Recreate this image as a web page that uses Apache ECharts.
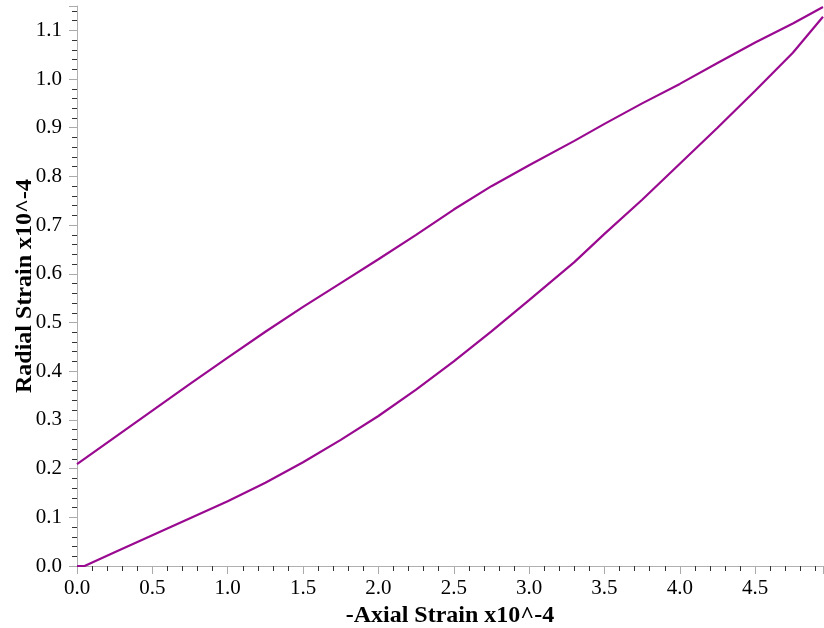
<!DOCTYPE html>
<html>
<head>
<meta charset="utf-8">
<script src="https://cdn.jsdelivr.net/npm/echarts@6/dist/echarts.min.js"></script>
<style>html,body{margin:0;padding:0;background:#fff;}#c{width:824px;height:628px;}</style>
</head>
<body>
<div id="c"></div>
<script>
// Upper branch
const upperX = [0.0, 0.25, 0.5, 0.75, 1.0, 1.25, 1.5, 1.75, 2.0, 2.25, 2.5, 2.75, 3.0, 3.3, 3.5, 3.75, 4.0, 4.25, 4.5, 4.75, 4.95];
const upperY = [0.209, 0.264, 0.319, 0.374, 0.428, 0.481, 0.532, 0.581, 0.630, 0.680, 0.732, 0.780, 0.823, 0.873, 0.908, 0.950, 0.990, 1.033, 1.075, 1.114, 1.148];
// Lower branch
const lowerX = [0.0, 0.05, 0.25, 0.5, 0.75, 1.0, 1.25, 1.5, 1.75, 2.0, 2.25, 2.5, 2.75, 3.0, 3.3, 3.5, 3.75, 4.0, 4.25, 4.5, 4.75, 4.95];
const lowerY = [0.0, 0.0, 0.028, 0.063, 0.098, 0.133, 0.171, 0.213, 0.259, 0.308, 0.362, 0.420, 0.482, 0.546, 0.624, 0.682, 0.752, 0.826, 0.900, 0.976, 1.054, 1.128];

const xTickLabels = ['0.0','0.5','1.0','1.5','2.0','2.5','3.0','3.5','4.0','4.5'];
const yTickLabels = ['0.0','0.1','0.2','0.3','0.4','0.5','0.6','0.7','0.8','0.9','1.0','1.1'];

const lineColor = '#990a90';
const font = 'Liberation Serif';

const chart = echarts.init(document.getElementById('c'), null, {renderer: 'canvas'});
chart.setOption({
  animation: false,
  backgroundColor: '#fff',
  grid: {left: 77, right: 1, top: 6, bottom: 62, containLabel: false, outerBoundsMode: 'none'},
  xAxis: {
    type: 'value', min: 0, max: 4.95, interval: 0.5,
    name: '-Axial Strain x10^-4', nameLocation: 'middle', nameGap: 34,
    nameTextStyle: {fontFamily: font, fontWeight: 'bold', fontSize: 24, color: '#000'},
    axisLine: {show: true, lineStyle: {color: '#b0b0b0', width: 1}},
    axisTick: {show: true, length: 8, inside: false, lineStyle: {color: '#aaa'}},
    minorTick: {show: true, splitNumber: 5, length: 5, lineStyle: {color: '#333'}},
    splitLine: {show: false},
    axisLabel: {fontFamily: font, fontSize: 21, color: '#000', margin: 12, showMaxLabel: false,
      formatter: v => { const i = Math.round(v / 0.5); return Math.abs(v - i * 0.5) < 1e-6 && xTickLabels[i] !== undefined ? xTickLabels[i] : ''; }}
  },
  yAxis: {
    type: 'value', min: 0, max: 1.15, interval: 0.1,
    name: 'Radial Strain x10^-4', nameLocation: 'middle', nameGap: 40, nameRotate: 90,
    nameMoveOverlap: false,
    nameTextStyle: {fontFamily: font, fontWeight: 'bold', fontSize: 24, color: '#000'},
    axisLine: {show: true, lineStyle: {color: '#b0b0b0', width: 1}},
    axisTick: {show: true, length: 8, inside: false, lineStyle: {color: '#aaa'}},
    minorTick: {show: true, splitNumber: 5, length: 5, lineStyle: {color: '#333'}},
    splitLine: {show: false},
    axisLabel: {fontFamily: font, fontSize: 21, color: '#000', margin: 15, showMaxLabel: false,
      formatter: v => { const i = Math.round(v / 0.1); return Math.abs(v - i * 0.1) < 1e-6 && yTickLabels[i] !== undefined ? yTickLabels[i] : ''; }}
  },
  series: [
    {type: 'line', data: upperX.map((x, i) => [x, upperY[i]]), smooth: false, showSymbol: false,
     lineStyle: {color: lineColor, width: 2.2}, clip: true},
    {type: 'line', data: lowerX.map((x, i) => [x, lowerY[i]]), smooth: false, showSymbol: false,
     lineStyle: {color: lineColor, width: 2.2}, clip: true}
  ]
});
</script>
</body>
</html>
